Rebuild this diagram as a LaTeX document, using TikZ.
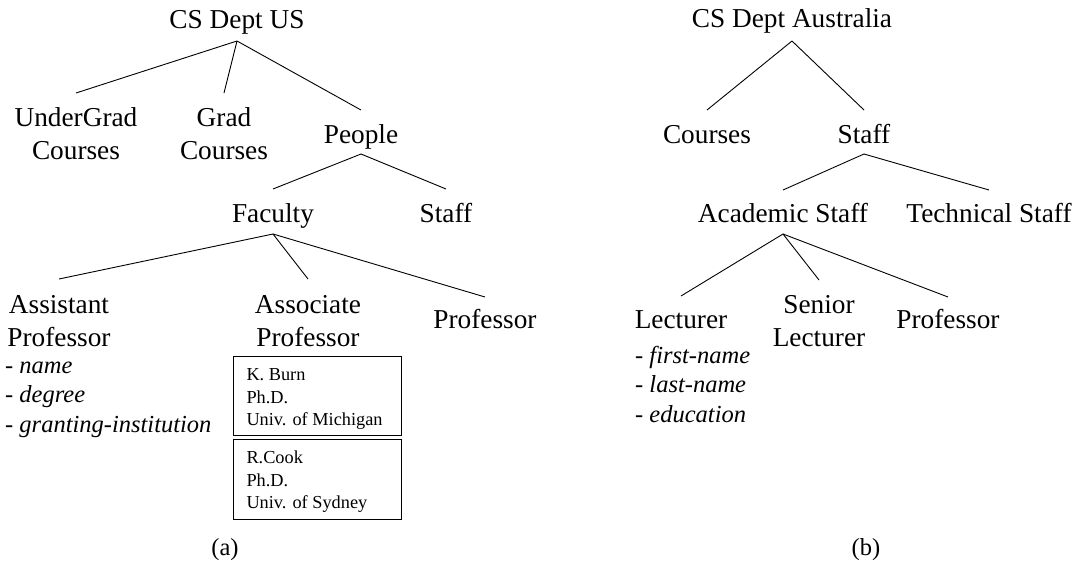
\documentclass[tikz,border=0pt]{standalone}
\usepackage{fontspec}
\setmainfont{Liberation Serif}
\newcommand{\twol}[2]{\begin{tabular}[t]{@{}c@{}}#1\\#2\end{tabular}}
\newcommand{\lst}[1]{\begin{tabular}[t]{@{}l@{}}#1\end{tabular}}
\newcommand{\boxlst}[1]{\makebox[142pt][l]{\begin{tabular}[t]{@{}l@{}}#1\end{tabular}}}
\begin{document}
\begin{tikzpicture}[x=1pt,y=-1pt,
  lab/.style={font=\fontsize{27.3pt}{33pt}\selectfont, inner sep=0pt, anchor=base},
  att/.style={font=\fontsize{24.5pt}{29.5pt}\selectfont, inner sep=0pt, anchor=base west},
  captxt/.style={font=\fontsize{24.5pt}{29.5pt}\selectfont, inner sep=0pt, anchor=base},
  rec/.style={draw, line width=1pt, font=\fontsize{18.3pt}{22.5pt}\selectfont,
    inner ysep=0pt, inner xsep=13pt, anchor=north west, text height=24pt},
  edge/.style={line width=0.9pt}]
\useasboundingbox (0,0) rectangle (1079,565);

% ---------- (a) ----------
\node[lab] (rootA) at (237,28) {CS Dept US};
\node[lab] (ug) at (76,126) {\twol{UnderGrad}{Courses}};
\node[lab] (grad) at (224,126) {\twol{Grad}{Courses}};
\node[lab] (people) at (361,143) {People};
\node[lab] (faculty) at (273,222) {Faculty};
\node[lab] (staffA) at (446,222) {Staff};
\node[lab] (asst) at (59,313) {\twol{Assistant}{Professor}};
\node[lab] (assoc) at (308,313) {\twol{Associate}{Professor}};
\node[lab] (profA) at (485,328) {Professor};
\node[att] (attrA) at (5,373) {\lst{- \textit{name}\\- \textit{degree}\\- \textit{granting-institution}}};
\node[rec, text depth=55pt] (box1) at (233,356) {\boxlst{K. Burn\\Ph.D.\\Univ. of Michigan}};
\node[rec, text depth=56pt] (box2) at (233,439) {\boxlst{R.Cook\\Ph.D.\\Univ. of Sydney}};
\node[captxt] (capA) at (225,555) {(a)};

\draw[edge] ([yshift=-13pt]rootA.base) -- ([yshift=33pt]ug.base);
\draw[edge] ([yshift=-13pt]rootA.base) -- ([yshift=33pt]grad.base);
\draw[edge] ([yshift=-13pt]rootA.base) -- ([yshift=33pt]people.base);
\draw[edge] ([yshift=-11pt]people.base) -- ([yshift=33pt]faculty.base);
\draw[edge] ([yshift=-11pt]people.base) -- ([yshift=33pt]staffA.base);
\draw[edge] ([yshift=-12pt]faculty.base) -- ([yshift=34pt]asst.base);
\draw[edge] ([yshift=-12pt]faculty.base) -- ([yshift=34pt]assoc.base);
\draw[edge] ([yshift=-12pt]faculty.base) -- ([yshift=31pt]profA.base);

% ---------- (b) ----------
\node[lab] (rootB) at (792,27) {CS Dept Australia};
\node[lab] (courses) at (707,143) {Courses};
\node[lab] (staffB) at (864,143) {Staff};
\node[lab] (acad) at (783,222) {Academic Staff};
\node[lab] (tech) at (989,222) {Technical Staff};
\node[lab] (lect) at (681,328) {Lecturer};
\node[lab] (senior) at (819,313) {\twol{Senior}{Lecturer}};
\node[lab] (profB) at (948,328) {Professor};
\node[att] (attrB) at (635,363) {\lst{- \textit{first-name}\\- \textit{last-name}\\- \textit{education}}};
\node[captxt] (capB) at (866,555) {(b)};

\draw[edge] ([yshift=-14pt]rootB.base) -- ([yshift=33pt]courses.base);
\draw[edge] ([yshift=-14pt]rootB.base) -- ([yshift=33pt]staffB.base);
\draw[edge] ([yshift=-11pt]staffB.base) -- ([yshift=32pt]acad.base);
\draw[edge] ([yshift=-11pt]staffB.base) -- ([yshift=32pt]tech.base);
\draw[edge] ([yshift=-12pt]acad.base) -- ([yshift=32pt]lect.base);
\draw[edge] ([yshift=-12pt]acad.base) -- ([yshift=33pt]senior.base);
\draw[edge] ([yshift=-12pt]acad.base) -- ([yshift=31pt]profB.base);
\end{tikzpicture}
\end{document}
